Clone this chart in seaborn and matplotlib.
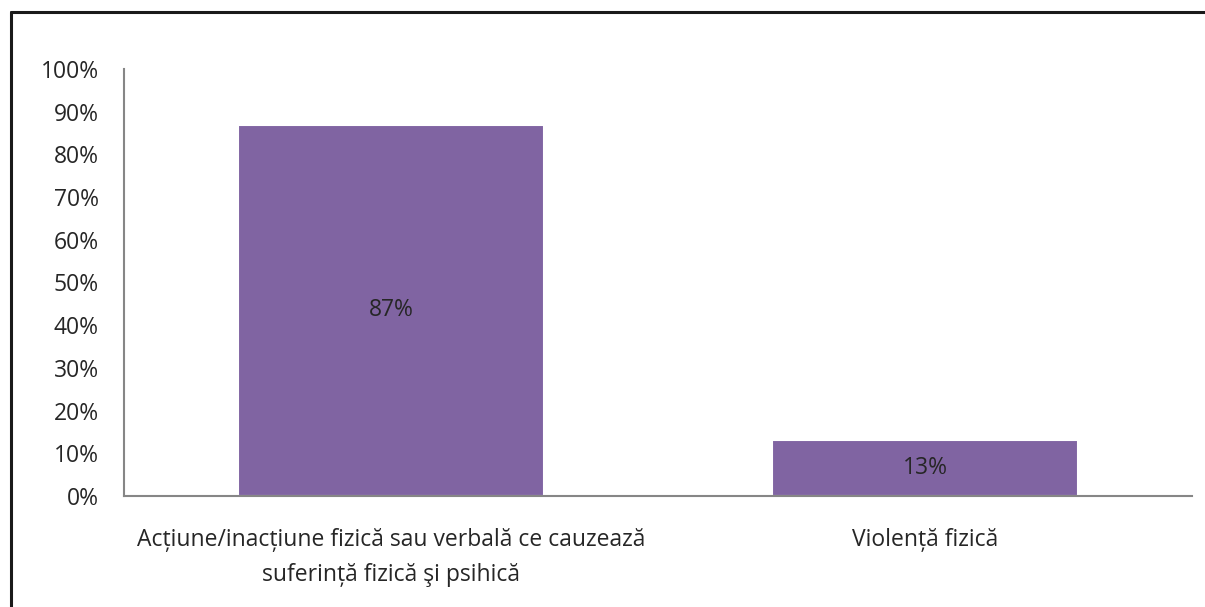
import matplotlib
matplotlib.use("Agg")
import matplotlib.pyplot as plt
import seaborn as sns
import pandas as pd
from matplotlib.lines import Line2D

categories = ["Acțiune/inacțiune fizică sau verbală ce cauzează\nsuferință fizică şi psihică",
              "Violență fizică"]
values = [0.87, 0.13]
value_labels = ["87%", "13%"]
yticks = [0, 0.1, 0.2, 0.3, 0.4, 0.5, 0.6, 0.7, 0.8, 0.9, 1.0]
ytick_labels = ["0%", "10%", "20%", "30%", "40%", "50%", "60%", "70%", "80%", "90%", "100%"]

sns.set_style("white")
plt.rcParams['font.family'] = ['Open Sans', 'DejaVu Sans']

df = pd.DataFrame({"cat": categories, "val": values})

fig = plt.figure(figsize=(12.05, 6.07), dpi=100)
ax = fig.add_axes([0.1029, 0.1829, 0.8863, 0.7034])

sns.barplot(data=df, x="cat", y="val", color="#8064A2", saturation=1,
            width=0.573, edgecolor="white", linewidth=1.5, ax=ax)

ax.set_ylim(0, 1)
ax.set_xlim(-0.5, 1.5)
ax.set_yticks(yticks)
ax.set_yticklabels(ytick_labels)
ax.set_xlabel("")
ax.set_ylabel("")
ax.tick_params(axis="y", length=0, pad=18, labelsize=16.5, labelcolor="#262626")
ax.tick_params(axis="x", length=0, pad=23, labelsize=16.5, labelcolor="#262626")
for t in ax.get_xticklabels():
    t.set_linespacing(1.6)

for s in ["top", "right"]:
    ax.spines[s].set_visible(False)
for s in ["left", "bottom"]:
    ax.spines[s].set_color("#868686")
    ax.spines[s].set_linewidth(1.5)

for p, lab in zip(ax.patches, value_labels):
    ax.text(p.get_x() + p.get_width() / 2, p.get_height() / 2, lab,
            ha="center", va="center", fontsize=16.5, color="#262626")

# outer frame (top and left edges visible)
fig.add_artist(Line2D([10.5 / 1205, 1.0], [1 - 11.5 / 607, 1 - 11.5 / 607],
                      transform=fig.transFigure, color="#1a1a1a", linewidth=2.2))
fig.add_artist(Line2D([10.5 / 1205, 10.5 / 1205], [0, 1 - 11.5 / 607],
                      transform=fig.transFigure, color="#1a1a1a", linewidth=2.2))

fig.savefig("out.png", dpi=100)
